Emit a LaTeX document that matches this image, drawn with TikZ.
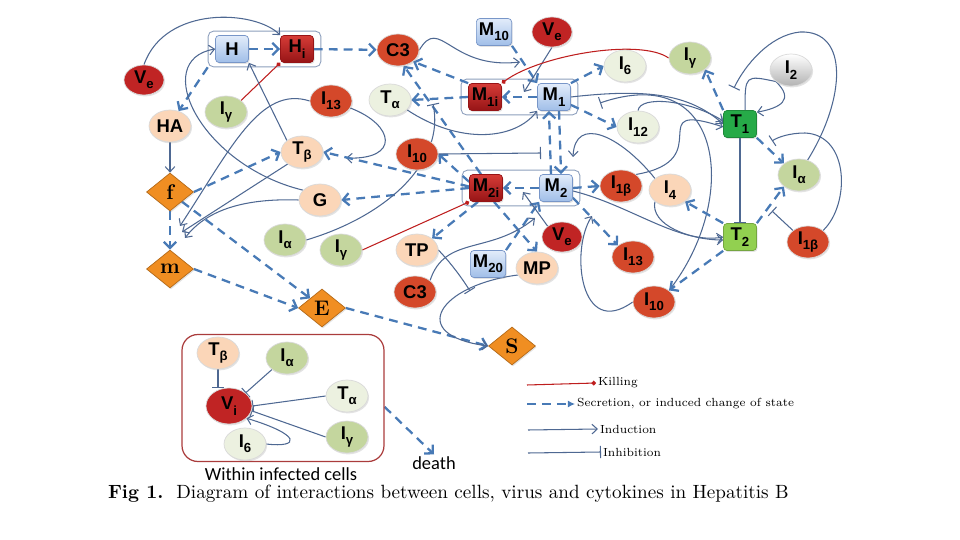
\documentclass[tikz,border=0pt]{standalone}
\usepackage{fontspec}
\usetikzlibrary{shapes.geometric,arrows.meta,fit,backgrounds,shadows}

\newfontfamily\etiq{Liberation Sans}
\newfontfamily\texto{Carlito}
\newcommand\etiqf{\etiq\bfseries\fontsize{10.5}{12}\selectfont}
\newcommand\subi[1]{\raisebox{-0.55ex}{\fontsize{7.5}{8}\selectfont #1}}

\definecolor{azulclaro}{RGB}{226,236,250}
\definecolor{azulmedio}{RGB}{160,190,232}
\definecolor{bordeazul}{RGB}{120,150,200}
\definecolor{rojoi1}{RGB}{214,60,55}
\definecolor{rojoi2}{RGB}{150,20,22}
\definecolor{rojoc}{RGB}{212,72,42}
\definecolor{rojov}{RGB}{192,36,36}
\definecolor{verdec}{RGB}{196,214,158}
\definecolor{palidoc}{RGB}{236,241,224}
\definecolor{meloc}{RGB}{251,214,184}
\definecolor{naranja}{RGB}{240,142,34}
\definecolor{verdet1}{RGB}{38,170,72}
\definecolor{verdet2}{RGB}{146,208,80}
\definecolor{secazul}{RGB}{72,122,182}
\definecolor{indazul}{RGB}{78,104,146}
\definecolor{matar}{RGB}{190,30,30}
\definecolor{grisazul}{RGB}{140,158,188}
\definecolor{marco}{RGB}{170,60,60}

\begin{document}
\begin{tikzpicture}[x=0.02cm,y=-0.02cm,
  sombra/.style={drop shadow={opacity=0.22,shadow xshift=0.6pt,shadow yshift=-0.8pt}},
  celula/.style={rectangle,rounded corners=2pt,minimum width=0.66cm,minimum height=0.54cm,inner sep=1.5pt,font=\etiqf,sombra},
  macro/.style={celula,draw=bordeazul,top color=azulclaro,bottom color=azulmedio},
  macroi/.style={celula,draw=rojoi2,top color=rojoi1,bottom color=rojoi2},
  tuno/.style={celula,draw=verdet1!80!black,fill=verdet1},
  tdos/.style={celula,draw=verdet2!80!black,fill=verdet2},
  elip/.style={ellipse,minimum width=0.84cm,minimum height=0.64cm,inner sep=0pt,font=\etiqf,draw=white!85!black,sombra},
  rojo/.style={elip,fill=rojoc},
  virus/.style={elip,fill=rojov,minimum width=0.8cm,minimum height=0.6cm},
  verde/.style={elip,fill=verdec},
  palido/.style={elip,fill=palidoc},
  melo/.style={elip,fill=meloc},
  gris/.style={elip,top color=white,bottom color=gray!60},
  rombo/.style={diamond,fill=naranja,draw=naranja!75!black,minimum width=0.94cm,minimum height=0.76cm,inner sep=0pt,font=\rmfamily\bfseries\large,sombra},
  grupo/.style={draw=grisazul,rounded corners=3pt,inner xsep=0.14cm,inner ysep=0.08cm,line width=0.5pt},
  sec/.style={draw=secazul,line width=1.3pt,dash pattern=on 5pt off 3.5pt,-{Straight Barb[length=3.5pt,width=7pt]}},
  ind/.style={draw=indazul,line width=0.6pt,-{Straight Barb[length=3pt,width=5.5pt]}},
  inh/.style={draw=indazul,line width=0.6pt,-{Bar[width=7pt]}},
  kill/.style={draw=matar,line width=0.6pt,-{Circle[length=2.6pt]}},
  leyenda/.style={font=\rmfamily\fontsize{6.7}{8}\selectfont,inner sep=1pt}]

\useasboundingbox (0,0) rectangle (960,540);

% Hepatocitos
\node[macro] (H) at (232,49) {H};
\node[macroi] (Hi) at (297,49) {H\subi{i}};
\node[virus] (Vea) at (144,80) {V\subi{e}};
\node[verde] (Iga) at (226,112) {I\subi{γ}};
\node[melo] (HA) at (170,126) {HA};
\node[rojo] (I13a) at (331,101) {I\subi{13}};
\node[palido] (Ta) at (390,100) {T\subi{α}};
\node[melo] (Tb) at (302,152) {T\subi{β}};
\node[melo] (G) at (320,200) {G};
\node[verde] (Iab) at (285,240) {I\subi{α}};
\node[verde] (Igb) at (341,250) {I\subi{γ}};

% Fibrosis
\node[rombo] (f) at (170,192) {f};
\node[rombo] (m) at (170,269) {m};
\node[rombo] (E) at (322,308) {E};
\node[rombo] (S) at (512,346) {S};

% Macrofagos
\node[rojo] (C3a) at (398,50) {C3};
\node[macro] (M10) at (494,32) {M\subi{10}};
\node[virus] (Veb) at (552,32) {V\subi{e}};
\node[macroi] (M1i) at (485,97) {M\subi{1i}};
\node[macro] (M1) at (554,97) {M\subi{1}};
\node[rojo] (I10a) at (417,154) {I\subi{10}};
\node[macroi] (M2i) at (486,188) {M\subi{2i}};
\node[macro] (M2) at (556,188) {M\subi{2}};
\node[virus] (Vec) at (562,237) {V\subi{e}};
\node[melo] (TP) at (417,250) {TP};
\node[macro] (M20) at (488,264) {M\subi{20}};
\node[melo] (MP) at (537,268) {MP};
\node[rojo] (C3b) at (415,292) {C3};

% Citoquinas y linfocitos T
\node[palido] (I6) at (625,66) {I\subi{6}};
\node[verde] (Igc) at (690,58) {I\subi{γ}};
\node[gris] (I2) at (791,70) {I\subi{2}};
\node[palido] (I12) at (638,127) {I\subi{12}};
\node[tuno] (T1) at (740,124) {T\subi{1}};
\node[rojo] (I1ba) at (621,186) {I\subi{1β}};
\node[melo] (I4) at (670,190) {I\subi{4}};
\node[verde] (Iac) at (799,175) {I\subi{α}};
\node[tdos] (T2) at (740,237) {T\subi{2}};
\node[rojo] (I1bb) at (808,242) {I\subi{1β}};
\node[rojo] (I13b) at (633,257) {I\subi{13}};
\node[rojo] (I10b) at (654,302) {I\subi{10}};

% Dentro de las celulas infectadas
\node[draw=marco,line width=0.7pt,rounded corners=9pt,minimum width=4.04cm,minimum height=2.54cm] (celulas) at (283,398) {};
\node[melo] (Tbi) at (218,353) {T\subi{β}};
\node[verde] (Iai) at (287,358) {I\subi{α}};
\node[virus,minimum width=0.92cm,minimum height=0.72cm] (Vi) at (229,406) {V\subi{i}};
\node[palido] (Tai) at (347,396) {T\subi{α}};
\node[palido] (I6i) at (245,444) {I\subi{6}};
\node[verde] (Igi) at (347,437) {I\subi{γ}};
\node[font=\texto\fontsize{10.5}{11}\selectfont,inner sep=1pt] (titulo) at (281,474) {Within infected cells};
\node[font=\texto\fontsize{10.5}{11}\selectfont,inner sep=1pt] (muerte) at (434,463) {death};

% Puntos libres
\coordinate (fm1) at (180,226);
\coordinate (fm2) at (182,232);
\coordinate (fm3) at (185,238);
\coordinate (tbx) at (346,158);
\coordinate (vm1) at (524,92);
\coordinate (vm2) at (523,192);
\coordinate (c3m) at (520,62);
\coordinate (i10m) at (541,153);
\coordinate (tam) at (433,104);
\coordinate (c3n) at (535,218);
\coordinate (tpx) at (470,291);
\coordinate (i4m) at (573,157);
\coordinate (i10i) at (600,103);
\coordinate (i10c) at (592,216);
\coordinate (ig1) at (734,88);
\coordinate (ia1) at (772,141);
\coordinate (ia2) at (772,211);

\begin{pgfonlayer}{background}
\node[grupo,fit=(H)(Hi)] (gH) {};
\node[grupo,fit=(M1i)(M1)] (gM1) {};
\node[grupo,fit=(M2i)(M2)] (gM2) {};

% Conexiones del higado
\draw[sec] (H) -- (Hi);
\draw[sec] (Hi) -- (C3a);
\draw[sec] (gH.south west) -- (HA.60);
\draw[ind] (Vea.north) .. controls (165,5) and (255,10) .. (Hi.north west);
\draw[kill] (Iga.north east) -- (Hi.south west);
\draw[ind] (HA) -- (f);
\draw[ind] (Tb.north west) -- (H.south east);
\draw[ind] (G.150) .. controls (200,165) and (150,60) .. (H.west);
\draw[ind] (I13a.west) .. controls (260,85) and (230,150) .. (fm1);
\draw[ind] (Tb.220) -- (fm2);
\draw[ind] (G.west) .. controls (240,198) and (205,212) .. (fm3);
\draw[ind] (I13a.-20) .. controls (395,125) and (400,160) .. (tbx);

% Fibrosis
\draw[sec] (f.east) -- (Tb.west);
\draw[sec] (f) -- (m);
\draw[sec] (f.south east) -- (E.north west);
\draw[sec] (m.east) -- (E.west);
\draw[sec] (E.east) -- (S.west);
\draw[ind] (MP.200) .. controls (440,285) and (405,335) .. (S.west);

% Macrofagos
\draw[sec] (M1) -- (M1i);
\draw[sec] (M2) -- (M2i);
\draw[sec] (M1.290) -- (M2.70);
\draw[sec] (M2.110) -- (M1.250);
\draw[sec] (M10.south east) -- (M1.north west);
\draw[sec] (M1i.west) -- (Ta.east);
\draw[sec] (M1i.north west) -- (C3a.south east);
\draw[sec] (M2i.110) -- (C3a.290);
\draw[sec] (M2i.160) -- (I10a.east);
\draw[sec] (M2i.175) -- (Tb.east);
\draw[sec] (M2i.west) -- (G.east);
\draw[sec] (M2i.240) -- (TP.north east);
\draw[sec] (M2i.300) -- (MP.north);
\draw[sec] (M20.north east) -- (M2.south west);
\draw[ind] (Veb.south) -- (vm1);
\draw[ind] (Vec.north west) -- (vm2);
\draw[kill] (Igc.west) .. controls (640,38) and (540,55) .. (M1i.north east);
\draw[kill] (Igb.east) -- (M2i.south west);
\draw[ind] (C3a.east) .. controls (440,15) and (450,70) .. (c3m);
\draw[ind] (Ta.-30) .. controls (460,145) and (515,140) .. (M1.south west);
\draw[inh] (I10a.east) -- (i10m);
\draw[inh] (Iab.east) .. controls (390,215) and (445,160) .. (tam);
\draw[ind] (C3b.north east) .. controls (445,235) and (490,255) .. (c3n);
\draw[inh] (TP.east) .. controls (450,262) and (462,278) .. (tpx);

% Citoquinas
\draw[sec] (M1.north east) -- (I6.west);
\draw[sec] (M1.-25) -- (I12.west);
\draw[ind] (M1.east) .. controls (650,88) and (690,95) .. (T1.west);
\draw[ind] (I12.north) .. controls (640,95) and (690,100) .. (T1.170);
\draw[sec] (M2.east) -- (I1ba.west);
\draw[sec] (M2.-30) -- (I13b.north west);
\draw[ind] (M2.-10) .. controls (630,205) and (680,245) .. (T2.west);
\draw[ind] (I4.south west) .. controls (650,225) and (690,240) .. (T2.190);
\draw[ind] (I4.north west) .. controls (620,135) and (575,115) .. (i4m);
\draw[ind] (I1ba.north east) .. controls (720,160) and (640,100) .. (T1.190);
\draw[inh] (I10b.north east) .. controls (740,200) and (725,60) .. (i10i);
\draw[ind] (I10b.west) .. controls (580,340) and (570,250) .. (i10c);

% Linfocitos T
\draw[sec] (T1.north west) -- (Igc.south east);
\draw[sec] (T1.south east) -- (Iac.north west);
\draw[sec] (T2.north east) -- (Iac.south west);
\draw[sec] (T2.north west) -- (I4.south east);
\draw[sec] (T2.south west) -- (I10b.north east);
\draw[inh] (T1) -- (T2);
\draw[ind] (T1.70) .. controls (745,75) .. (I2.south west) .. controls (795,100) and (780,108) .. (T1.35);
\draw[inh] (Iac.60) .. controls (845,100) and (850,30) .. (800,32) .. controls (770,35) and (745,65) .. (ig1);
\draw[inh] (I1bb.north east) .. controls (850,205) and (850,135) .. (805,133) .. controls (790,133) and (778,137) .. (ia1);
\draw[inh] (I1bb.north west) -- (ia2);

% Celulas infectadas
\draw[inh] (Tbi.south) -- (Tbi.south |- Vi.north);
\draw[inh] (Iai.south west) -- (Vi.north east);
\draw[inh] (Tai.west) -- (Vi.east);
\draw[inh] (Igi.west) -- (Vi.-12);
\draw[ind] (I6i.east) .. controls (300,448) and (302,435) .. (Vi.-35);
\draw[sec] (celulas.-5) -- (muerte.north);
\end{pgfonlayer}

% Leyenda
\coordinate (k0) at (527,385);
\coordinate (s0) at (527,404);
\coordinate (n0) at (528,430);
\coordinate (h0) at (528,453);
\node[leyenda,anchor=west] (lk) at (596,383) {Killing};
\node[leyenda,anchor=west] (ls) at (575,404) {Secretion, or induced change of state};
\node[leyenda,anchor=west] (ln) at (598,429) {Induction};
\node[leyenda,anchor=west] (lh) at (601,452) {Inhibition};
\draw[kill] (k0) -- (lk.west);
\draw[sec,-{Latex[length=4pt,width=4pt]}] (s0) -- (ls.west);
\draw[ind] (n0) -- (ln.west);
\draw[inh] (h0) -- (lh.west);

% Pie de figura
\node[anchor=west,font=\rmfamily\fontsize{10.9}{12}\selectfont,inner sep=1pt] (pie) at (106,494) {\textbf{Fig 1.}\ \ Diagram of interactions between cells, virus and cytokines in Hepatitis B};

\end{tikzpicture}
\end{document}
